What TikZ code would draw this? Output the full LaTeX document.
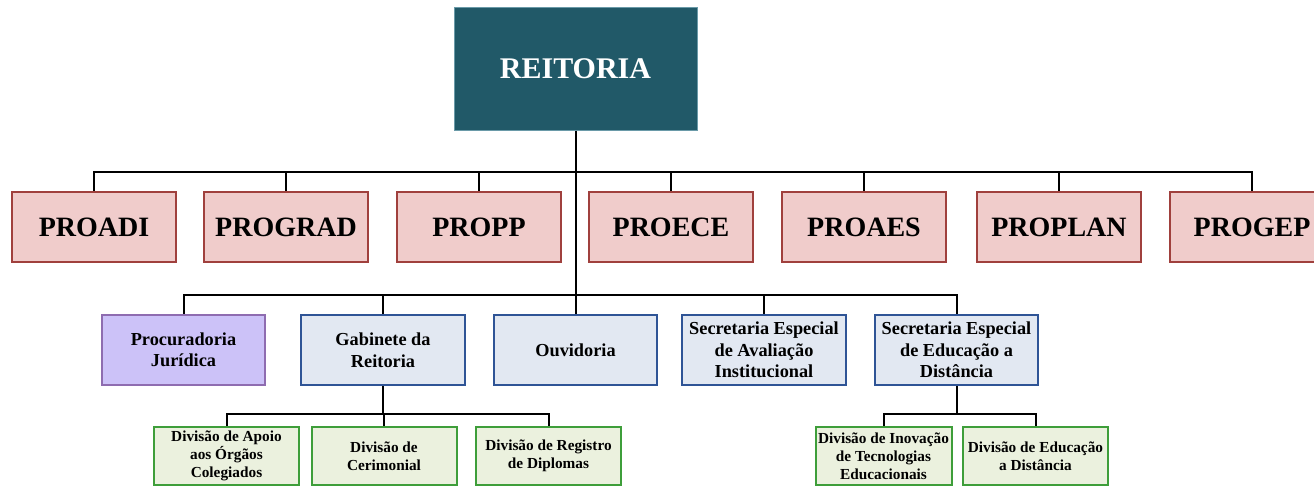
\documentclass[tikz,border=0pt]{standalone}
\usepackage{fontspec}
\setmainfont{Liberation Serif}
\definecolor{reitfill}{HTML}{215968}
\definecolor{reitdraw}{HTML}{6A9AA8}
\definecolor{pinkfill}{HTML}{F0CCCB}
\definecolor{pinkdraw}{HTML}{A0403D}
\definecolor{bluefill}{HTML}{E2E8F2}
\definecolor{bluedraw}{HTML}{2F5496}
\definecolor{violfill}{HTML}{CCC2F8}
\definecolor{violdraw}{HTML}{8E6CB0}
\definecolor{greenfill}{HTML}{EBF1DE}
\definecolor{greendraw}{HTML}{3E9E3A}
\begin{document}
\begin{tikzpicture}[x=1pt,y=1pt,
  reitbox/.style={draw=reitdraw,fill=reitfill,line width=1pt,minimum width=243pt,minimum height=122pt,inner sep=0pt,text=white,font=\bfseries\fontsize{30}{36}\selectfont},
  probox/.style={draw=pinkdraw,fill=pinkfill,line width=2pt,minimum width=164pt,minimum height=70pt,inner sep=0pt,font=\bfseries\fontsize{28}{34}\selectfont},
  secbox/.style={draw=bluedraw,fill=bluefill,line width=2pt,minimum width=163pt,minimum height=70pt,inner sep=0pt,align=center,font=\bfseries\fontsize{18.3}{21.5}\selectfont},
  procbox/.style={secbox,draw=violdraw,fill=violfill},
  divbox/.style={draw=greendraw,fill=greenfill,line width=2pt,minimum width=145pt,minimum height=58pt,inner sep=0pt,align=center,font=\bfseries\fontsize{15.3}{17.8}\selectfont},
  link/.style={draw=black,line width=2pt}]
\useasboundingbox (0,0) rectangle (1314,-487);
\clip (0,0) rectangle (1314,-487);
% top
\node[reitbox] (reit) at (575.5,-69) {REITORIA};
% row 1
\node[probox] (proadi) at (94,-227) {PROADI};
\node[probox] (prograd) at (286,-227) {PROGRAD};
\node[probox] (propp) at (479,-227) {PROPP};
\node[probox] (proece) at (671,-227) {PROECE};
\node[probox] (proaes) at (864,-227) {PROAES};
\node[probox] (proplan) at (1059,-227) {PROPLAN};
\node[probox] (progep) at (1252,-227) {PROGEP};
% row 2
\node[procbox] (proc) at (183.5,-350) {Procuradoria\\Jurídica};
\node[secbox,minimum width=164pt] (gab) at (383,-350) {Gabinete da\\Reitoria};
\node[secbox] (ouv) at (575.5,-350) {Ouvidoria};
\node[secbox,minimum width=164pt] (aval) at (764,-350) {Secretaria Especial\\de Avaliação\\Institucional};
\node[secbox] (ead) at (956.5,-350) {Secretaria Especial\\de Educação a\\Distância};
% row 3
\node[divbox] (apoio) at (226.5,-456) {Divisão de Apoio\\aos Órgãos\\Colegiados};
\node[divbox] (cer) at (384,-456) {Divisão de\\Cerimonial};
\node[divbox] (reg) at (548.5,-456) {Divisão de Registro\\de Diplomas};
\node[divbox,minimum width=136pt] (inov) at (883.5,-456) {Divisão de Inovação\\de Tecnologias\\Educacionais};
\node[divbox] (educ) at (1035.5,-456) {Divisão de Educação\\a Distância};
% bus levels
\coordinate (b1) at (0,-172);
\coordinate (b2) at (0,-295);
\coordinate (b3) at (0,-414);
% connectors
\draw[link] (reit.south) -- (ouv.north);
\foreach \n in {proadi,prograd,propp,proece,proaes,proplan,progep}
  \draw[link] (reit.south |- b1) -| (\n.north);
\foreach \n in {proc,gab,aval,ead}
  \draw[link] (reit.south |- b2) -| (\n.north);
\draw[link] (gab.south) -- (gab.south |- b3) -| (cer.north);
\draw[link] (gab.south |- b3) -| (apoio.north);
\draw[link] (gab.south |- b3) -| (reg.north);
\draw[link] (ead.south) -- (ead.south |- b3) -| (inov.north);
\draw[link] (ead.south |- b3) -| (educ.north);
\end{tikzpicture}
\end{document}
